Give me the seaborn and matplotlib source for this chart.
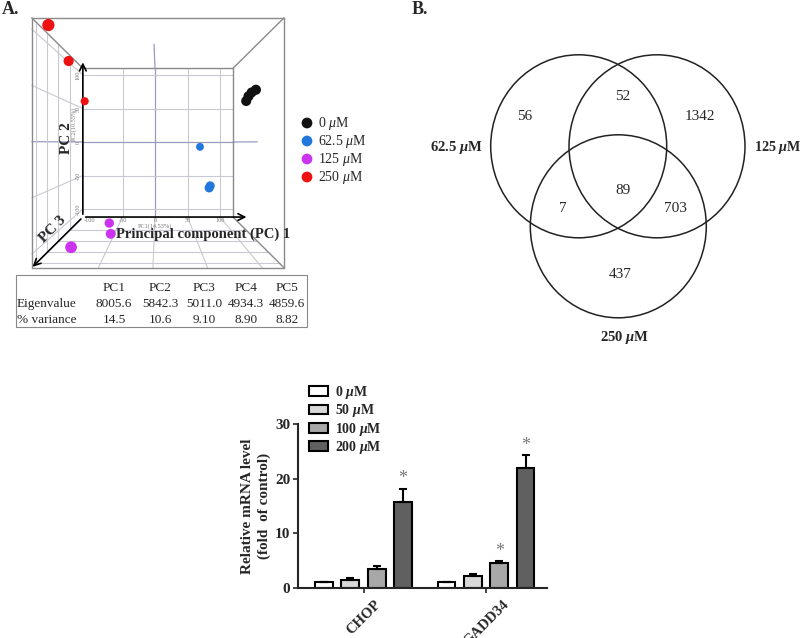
import numpy as np
import pandas as pd
import matplotlib
matplotlib.use("Agg")
import matplotlib.pyplot as plt
from matplotlib.patches import Ellipse, Patch
from matplotlib.container import BarContainer
import seaborn as sns

# ---------------- data ----------------
# panel A: PCA scores (PC1, PC2, PC3) per treatment group
pca_labels = ["0 $\\mu$M", "62.5 $\\mu$M", "125 $\\mu$M", "250 $\\mu$M"]
pca_colors = ["#111111", "#2277dd", "#cc33ee", "#ee1111"]
pc1_ctrl = [107, 109, 114, 117]
pc2_ctrl = [46, 51, 56, 58]
pc3_ctrl = [0, 3, -3, 5]
pc1_62 = [67, 70, 72]
pc2_62 = [-7, -57, -55]
pc3_62 = [-98, -41, -45]
pc1_125 = [-82, -51, -56]
pc2_125 = [-102, -105, -98]
pc3_125 = [74, -6, -30]
pc1_250 = [-100, -98, -101]
pc2_250 = [108, 90, 57]
pc3_250 = [97, 5, -87]

pc_names = ["PC1", "PC2", "PC3", "PC4", "PC5"]
eigenvalues = ["8005.6", "5842.3", "5011.0", "4934.3", "4859.6"]
pct_variance = ["14.5", "10.6", "9.10", "8.90", "8.82"]

# panel B: Venn counts
venn_counts = ["56", "52", "1342", "7", "89", "703", "437"]
venn_sets = ["62.5 $\\mathbfit{\\mu}$M", "125 $\\mathbfit{\\mu}$M", "250 $\\mathbfit{\\mu}$M"]

# panel C: qPCR
genes = ["CHOP", "GADD34"]
doses = ["0 $\\mathbfit{\\mu}$M", "50 $\\mathbfit{\\mu}$M", "100 $\\mathbfit{\\mu}$M", "200 $\\mathbfit{\\mu}$M"]
chop_mean = [1.0, 1.5, 3.4, 15.7]
chop_err = [0.1, 0.3, 0.5, 2.5]
gadd_mean = [1.0, 2.2, 4.5, 22.0]
gadd_err = [0.1, 0.25, 0.4, 2.3]
chop_sig = [False, False, False, True]
gadd_sig = [False, False, True, True]
bar_colors = ["#ffffff", "#d8d8d8", "#a8a8a8", "#606060"]

# ---------------- style ----------------
sns.set_style("ticks")
plt.rcParams["font.family"] = ["Liberation Serif", "DejaVu Serif"]
plt.rcParams["mathtext.fontset"] = "custom"
plt.rcParams["mathtext.rm"] = "Liberation Serif"
plt.rcParams["mathtext.it"] = "Liberation Serif:italic"
plt.rcParams["mathtext.bf"] = "Liberation Serif:bold"
plt.rcParams["mathtext.bfit"] = "Liberation Serif:bold:italic"

fig = plt.figure(figsize=(8, 6.38), dpi=100)
canvas = fig.add_axes([0, 0, 1, 1])
canvas.set_xlim(0, 800)
canvas.set_ylim(638, 0)
canvas.axis("off")

# ---------------- panel A: 3D PCA box ----------------
P1 = (-111, 120)
P2 = (-112, 110)
P3 = (-110, 120)


def proj(p1, p2, p3):
    s = 1 + 0.68 * (p3 - P3[0]) / (P3[1] - P3[0])
    xb = 155 + 0.65 * p1
    yb = 142 - 0.67 * p2
    return 158 + (xb - 158) * s, 142.5 + (yb - 142.5) * s, s


def seg(a, b, **kw):
    xa, ya, _ = proj(*a)
    xb, yb, _ = proj(*b)
    canvas.plot([xa, xb], [ya, yb], **kw)


grid = dict(color="#c9c9d2", lw=0.8, zorder=1)
edge = dict(color="#8a8a8a", lw=1.0, zorder=2)
zero = dict(color="#9a9ac0", lw=0.9, zorder=1)

# back face grid
for v in [-50, 0, 50, 100]:
    seg((v, P2[0], P3[0]), (v, P2[1], P3[0]), **(zero if v == 0 else grid))
for v in [-100, -50, 0, 50, 100]:
    seg((P1[0], v, P3[0]), (P1[1], v, P3[0]), **(zero if v == 0 else grid))
# left wall and floor
for v in [-100, -50, 0, 50, 100]:
    seg((P1[0], v, P3[0]), (P1[0], v, P3[1]), **(zero if v == 0 else grid))
for v in [-50, 0, 50, 100]:
    seg((v, P2[0], P3[0]), (v, P2[0], P3[1]), **grid)
for d in [-50, 0, 50, 100]:
    seg((P1[0], P2[0], d), (P1[0], P2[1], d), **grid)
    seg((P1[0], P2[0], d), (P1[1], P2[0], d), **grid)
# zero lines on top and right walls
seg((0, P2[1], P3[0]), (0, P2[1], 0), **zero)
seg((P1[1], 0, P3[0]), (P1[1], 0, 0), **zero)

# box edges
seg((P1[0], P2[1], P3[0]), (P1[1], P2[1], P3[0]), **edge)
seg((P1[1], P2[0], P3[0]), (P1[1], P2[1], P3[0]), **edge)
for a, b in [((P1[0], P2[1]), (P1[1], P2[1])), ((P1[1], P2[0]), (P1[1], P2[1])),
             ((P1[0], P2[0]), (P1[0], P2[1])), ((P1[0], P2[0]), (P1[1], P2[0]))]:
    seg((*a, P3[1]), (*b, P3[1]), **edge)
for c1 in P1:
    for c2 in P2:
        if (c1, c2) != (P1[0], P2[0]):
            seg((c1, c2, P3[0]), (c1, c2, P3[1]), **edge)

# axes arrows
origin = proj(P1[0], P2[0], P3[0])[:2]
arrow = dict(arrowstyle="->", color="black", lw=1.2, mutation_scale=12)
for tip in [(145, P2[0], P3[0]), (P1[0], 123, P3[0]), (P1[0], P2[0], 125)]:
    canvas.annotate("", xy=proj(*tip)[:2], xytext=origin, arrowprops=arrow, zorder=3)

# tiny tick labels
for v in [-100, -50, 0, 50, 100]:
    x, y, _ = proj(v, P2[0], P3[0])
    canvas.text(x, y + 3, str(v), fontsize=4.5, color="#777777", ha="center", va="center")
    x, y, _ = proj(P1[0], v, P3[0])
    canvas.text(x - 5, y, str(v), fontsize=4.5, color="#777777", ha="center", va="center",
                rotation=90)
canvas.text(155, 226, "PC1(14.53%)", fontsize=4.5, color="#777777", ha="center", va="center")
canvas.text(74, 124, "PC2(10.55%)", fontsize=4.5, color="#777777", ha="center", va="center",
            rotation=90)

# points, back to front
pts = []
for c, xs, ys, zs in zip(pca_colors,
                         [pc1_ctrl, pc1_62, pc1_125, pc1_250],
                         [pc2_ctrl, pc2_62, pc2_125, pc2_250],
                         [pc3_ctrl, pc3_62, pc3_125, pc3_250]):
    for p1, p2, p3 in zip(xs, ys, zs):
        x, y, s = proj(p1, p2, p3)
        pts.append((s, x, y, c))
pts.sort()
for s, x, y, c in pts:
    canvas.scatter(x, y, s=(1.44 * 3.8 * s) ** 2, color=c, edgecolors="none", zorder=4)

canvas.text(67, 138, "PC 2", fontsize=11, fontweight="bold", rotation=90,
            ha="center", va="center", zorder=5)
canvas.text(53, 229, "PC 3", fontsize=11, fontweight="bold", rotation=45,
            ha="center", va="center", zorder=5)
canvas.text(116, 234, "Principal component (PC) 1", fontsize=10.5, fontweight="bold",
            ha="left", va="center", zorder=5)

# legend
for i, (lab, c) in enumerate(zip(pca_labels, pca_colors)):
    y = 123 + 18 * i
    canvas.scatter(307, y, s=60, color=c, edgecolors="none")
    canvas.text(318, y, lab, fontsize=10, ha="left", va="center")

# eigenvalue table
canvas.add_patch(plt.Rectangle((15.5, 275), 291, 52, fill=False, ec="#888888", lw=0.8))
col_x = [114, 160, 204, 246, 287]
for row, (name, vals) in enumerate([("", pc_names), ("Eigenvalue", eigenvalues),
                                    ("% variance", pct_variance)]):
    y = 288 + 16 * row
    canvas.text(17, y, name, fontsize=9.5, ha="left", va="center")
    for x, v in zip(col_x, vals):
        canvas.text(x, y, v, fontsize=9.5, ha="center", va="center")

canvas.text(2, 10, "A.", fontsize=13, fontweight="bold", ha="left", va="center")
canvas.text(412, 10, "B.", fontsize=13, fontweight="bold", ha="left", va="center")

# ---------------- panel B: Venn ----------------
for cx, cy in [(578.7, 146.3), (657, 146.3), (618.3, 226.3)]:
    canvas.add_patch(Ellipse((cx, cy), 176, 183, fill=False, ec="#222222", lw=1.1))
venn_pos = [(525, 116), (623, 96), (700, 117), (563, 209), (623, 190), (675, 209), (620, 274)]
for (x, y), n in zip(venn_pos, venn_counts):
    canvas.text(x, y, n, fontsize=11, ha="center", va="center")
canvas.text(483, 148, venn_sets[0], fontsize=10.5, fontweight="bold", ha="right", va="center")
canvas.text(754, 147, venn_sets[1], fontsize=10.2, fontweight="bold", ha="left", va="center")
canvas.text(625, 337, venn_sets[2], fontsize=10.5, fontweight="bold", ha="center", va="center")

# ---------------- panel C: bar chart ----------------
rows = []
for g, means in zip(genes, [chop_mean, gadd_mean]):
    for d, m in zip(doses, means):
        rows.append({"gene": g, "dose": d, "value": m})
df = pd.DataFrame(rows)

ax = fig.add_axes([298 / 800, 1 - 587.7 / 638, 249 / 800, 163.4 / 638])
sns.barplot(data=df, x="gene", y="value", hue="dose", order=genes, hue_order=doses,
            palette=bar_colors, width=0.86, gap=0.32, errorbar=None, legend=False,
            edgecolor="black", linewidth=1.5, saturation=1, ax=ax)

errs = [chop_err, gadd_err]
means = [chop_mean, gadd_mean]
sigs = [chop_sig, gadd_sig]
bar_conts = [c for c in ax.containers if isinstance(c, BarContainer)]
for h, cont in enumerate(bar_conts):
    for bar in list(cont):
        xc = bar.get_x() + bar.get_width() / 2
        g = int(round(xc))
        ax.errorbar(xc, means[g][h], yerr=[[0], [errs[g][h]]], fmt="none", ecolor="black",
                    elinewidth=1.5, capsize=3.2, capthick=1.5, zorder=1)
        if sigs[g][h]:
            ax.annotate("*", (xc, means[g][h] + errs[g][h]), xytext=(0, 1),
                        textcoords="offset points", ha="center", va="bottom",
                        fontsize=13, color="#777777")

ax.set_xlim(-0.535, 1.498)
ax.set_ylim(0, 30)
ax.set_yticks([0, 10, 20, 30])
ax.set_xlabel("")
ax.set_ylabel("Relative mRNA level\n(fold  of control)", fontsize=11, fontweight="bold",
              labelpad=3, linespacing=1.35)
sns.despine(ax=ax)
for sp in ["left", "bottom"]:
    ax.spines[sp].set_linewidth(1.5)
ax.tick_params(width=1.2, length=3.5, pad=2, labelsize=11)
ax.tick_params(axis="x", pad=4)
for t in ax.get_yticklabels():
    t.set_fontweight("bold")
ax.set_xticks([0, 1])
ax.set_xticklabels(genes, rotation=45, ha="center", va="top",
                   fontweight="bold", fontsize=10.5)

handles = [Patch(facecolor=c, edgecolor="black", linewidth=1.5) for c in bar_colors]
ax.legend(handles, doses, loc="upper left", bbox_to_anchor=(309 / 800, 1 - 384 / 638),
          bbox_transform=fig.transFigure, frameon=False, borderpad=0, borderaxespad=0,
          handlelength=1.37, handleheight=0.72, handletextpad=0.5, labelspacing=0.1,
          prop={"weight": "bold", "size": 10})

fig.savefig("out.png", dpi=100)
